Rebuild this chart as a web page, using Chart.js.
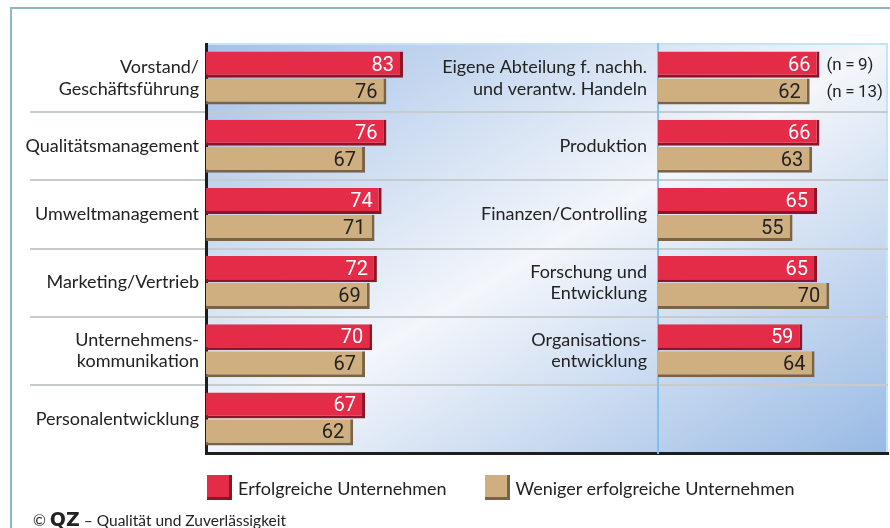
<!DOCTYPE html>
<html lang="de">
<head>
<meta charset="utf-8">
<title>Erfolgreiche vs. weniger erfolgreiche Unternehmen</title>
<script src="https://cdn.jsdelivr.net/npm/chart.js@4.4.1/dist/chart.umd.min.js"></script>
<style>
  html, body { margin: 0; padding: 0; background: #fff; }
  #wrap { position: relative; width: 890px; height: 528px; overflow: hidden; font-family: Lato, 'Open Sans', sans-serif; color: #222; }
  #frame { position: absolute; left: 10px; top: 7px; width: 900px; height: 600px; border: 2px solid #8fb5c9; }
  #plotBg {
    position: absolute; left: 206px; top: 43px; width: 682px; height: 410px; box-sizing: border-box;
    background: linear-gradient(to bottom right, #a4c1e7 0%, #f3f6fb 50%, #99bae4 100%);
    border-top: 2px solid #c4e5f6; border-right: 2px solid #c4e5f6;
  }
  canvas { position: absolute; left: 0; top: 0; }
  #legend { position: absolute; left: 207px; top: 475px; display: flex; gap: 38px; font-size: 18px; }
  #legend .item { display: flex; align-items: center; gap: 6px; height: 25px; }
  #legend .box { width: 25px; height: 25px; box-sizing: border-box; border-right: 3px solid; border-bottom: 3px solid; }
  #footer { position: absolute; left: 33px; top: 508px; font-size: 15.5px; white-space: nowrap; }
  #footer b { font-family: 'DejaVu Sans', sans-serif; font-size: 19px; font-weight: 900; }
</style>
</head>
<body>
<div id="wrap">
  <div id="frame"></div>
  <div id="plotBg"></div>
  <canvas id="leftChart" width="890" height="528"></canvas>
  <canvas id="rightChart" width="890" height="528"></canvas>
  <div id="legend"></div>
  <div id="footer">© <b>QZ</b> – Qualität und Zuverlässigkeit</div>
</div>
<script>
// Daten
const leftCategories = [['Vorstand/', 'Geschäftsführung'], 'Qualitätsmanagement', 'Umweltmanagement', 'Marketing/Vertrieb', ['Unternehmens-', 'kommunikation'], 'Personalentwicklung'];
const leftSuccessful = [83, 76, 74, 72, 70, 67];
const leftLess = [76, 67, 71, 69, 67, 62];

const rightCategories = [['Eigene Abteilung f. nachh.', 'und verantw. Handeln'], 'Produktion', 'Finanzen/Controlling', ['Forschung und', 'Entwicklung'], ['Organisations-', 'entwicklung']];
const rightSuccessful = [66, 66, 65, 65, 59];
const rightLess = [62, 63, 55, 70, 64];

const seriesNames = ['Erfolgreiche Unternehmen', 'Weniger erfolgreiche Unternehmen'];
const sampleNotes = ['(n\u2009=\u20099)', '(n\u2009=\u200913)'];

const barColors = ['#e42b48', '#cfae7f'];
const barEdges = ['#8c1627', '#7a6445'];
const valueColors = ['#ffffff', '#222222'];
const labelFont = { family: 'Lato, "Open Sans", sans-serif', size: 18 };
const valueFont = '20px "Liberation Sans Narrow", Roboto, sans-serif';

// Trennlinien zwischen den Zeilen, ueber die ganze Breite
const rowLines = {
    id: 'rowLines',
    beforeDraw(chart) {
        const y = chart.scales.y, ctx = chart.ctx;
        ctx.save();
        ctx.strokeStyle = '#c6cbcd';
        ctx.lineWidth = 2;
        for (let i = 1; i < y.ticks.length; i++) {
            const py = Math.round((y.getPixelForValue(i - 1) + y.getPixelForValue(i)) / 2);
            ctx.beginPath();
            ctx.moveTo(30, py);
            ctx.lineTo(888, py);
            ctx.stroke();
        }
        ctx.restore();
    }
};

const barValues = {
    id: 'barValues',
    afterDatasetsDraw(chart) {
        const ctx = chart.ctx;
        ctx.save();
        ctx.font = valueFont;
        ctx.textAlign = 'right';
        ctx.textBaseline = 'middle';
        chart.data.datasets.forEach((ds, d) => {
            ctx.fillStyle = valueColors[d];
            chart.getDatasetMeta(d).data.forEach((bar, i) => {
                if (ds.data[i] == null) return;
                ctx.fillText(ds.data[i], bar.x - 9, bar.y + 1);
            });
        });
        ctx.restore();
    }
};

const notes = {
    id: 'notes',
    afterDatasetsDraw(chart) {
        const bars = [0, 1].map(d => chart.getDatasetMeta(d).data[0]);
        const x = Math.max(bars[0].x, bars[1].x) + 7;
        const ctx = chart.ctx;
        ctx.save();
        ctx.font = '17px "Liberation Sans Narrow", Roboto, sans-serif';
        ctx.fillStyle = '#222';
        ctx.textBaseline = 'middle';
        bars.forEach((b, d) => ctx.fillText(sampleNotes[d], x, b.y + 1));
        ctx.restore();
    }
};

function makeChart(id, labels, successful, less, cfg) {
    return new Chart(document.getElementById(id), {
        type: 'bar',
        data: {
            labels,
            datasets: [successful, less].map((data, d) => ({
                label: seriesNames[d],
                data,
                backgroundColor: barColors[d],
                borderColor: barEdges[d],
                borderWidth: { top: 0, left: 0, right: 3, bottom: 3 },
                borderSkipped: false,
                categoryPercentage: 0.79,
                barPercentage: 0.97
            }))
        },
        options: {
            indexAxis: 'y',
            responsive: false,
            animation: false,
            layout: { padding: cfg.padding },
            plugins: { legend: { display: false }, tooltip: { enabled: false } },
            scales: {
                x: {
                    min: 0, max: cfg.max,
                    grid: { display: false, drawTicks: false },
                    ticks: { display: false },
                    border: { display: true, color: '#1e1e1e', width: 3 }
                },
                y: {
                    afterFit: s => { s.width = cfg.axisX; },
                    grid: { display: false, drawTicks: false },
                    border: { display: true, color: cfg.axisColor, width: cfg.axisWidth },
                    ticks: { color: '#222', font: labelFont, padding: cfg.labelPad, autoSkip: false }
                }
            }
        },
        plugins: cfg.plugins
    });
}

makeChart('leftChart', leftCategories, leftSuccessful, leftLess, {
    padding: { left: 0, top: 44, right: 890 - 657, bottom: 528 - 453 },
    axisX: 206, max: 190, axisColor: '#1e1e1e', axisWidth: 3, labelPad: 7,
    plugins: [rowLines, barValues]
});

// rechte Haelfte hat eine leere sechste Zeile
makeChart('rightChart', [...rightCategories, ''], rightSuccessful, rightLess, {
    padding: { left: 0, top: 44, right: 2, bottom: 528 - 453 },
    axisX: 658, max: 94, axisColor: '#7dc2ec', axisWidth: 2, labelPad: 11,
    plugins: [barValues, notes]
});

// Legende
const legend = document.getElementById('legend');
seriesNames.forEach((name, d) => {
    const item = document.createElement('div');
    item.className = 'item';
    item.innerHTML = `<span class="box" style="background:${barColors[d]};border-color:${barEdges[d]}"></span><span>${name}</span>`;
    legend.appendChild(item);
});
</script>
</body>
</html>
